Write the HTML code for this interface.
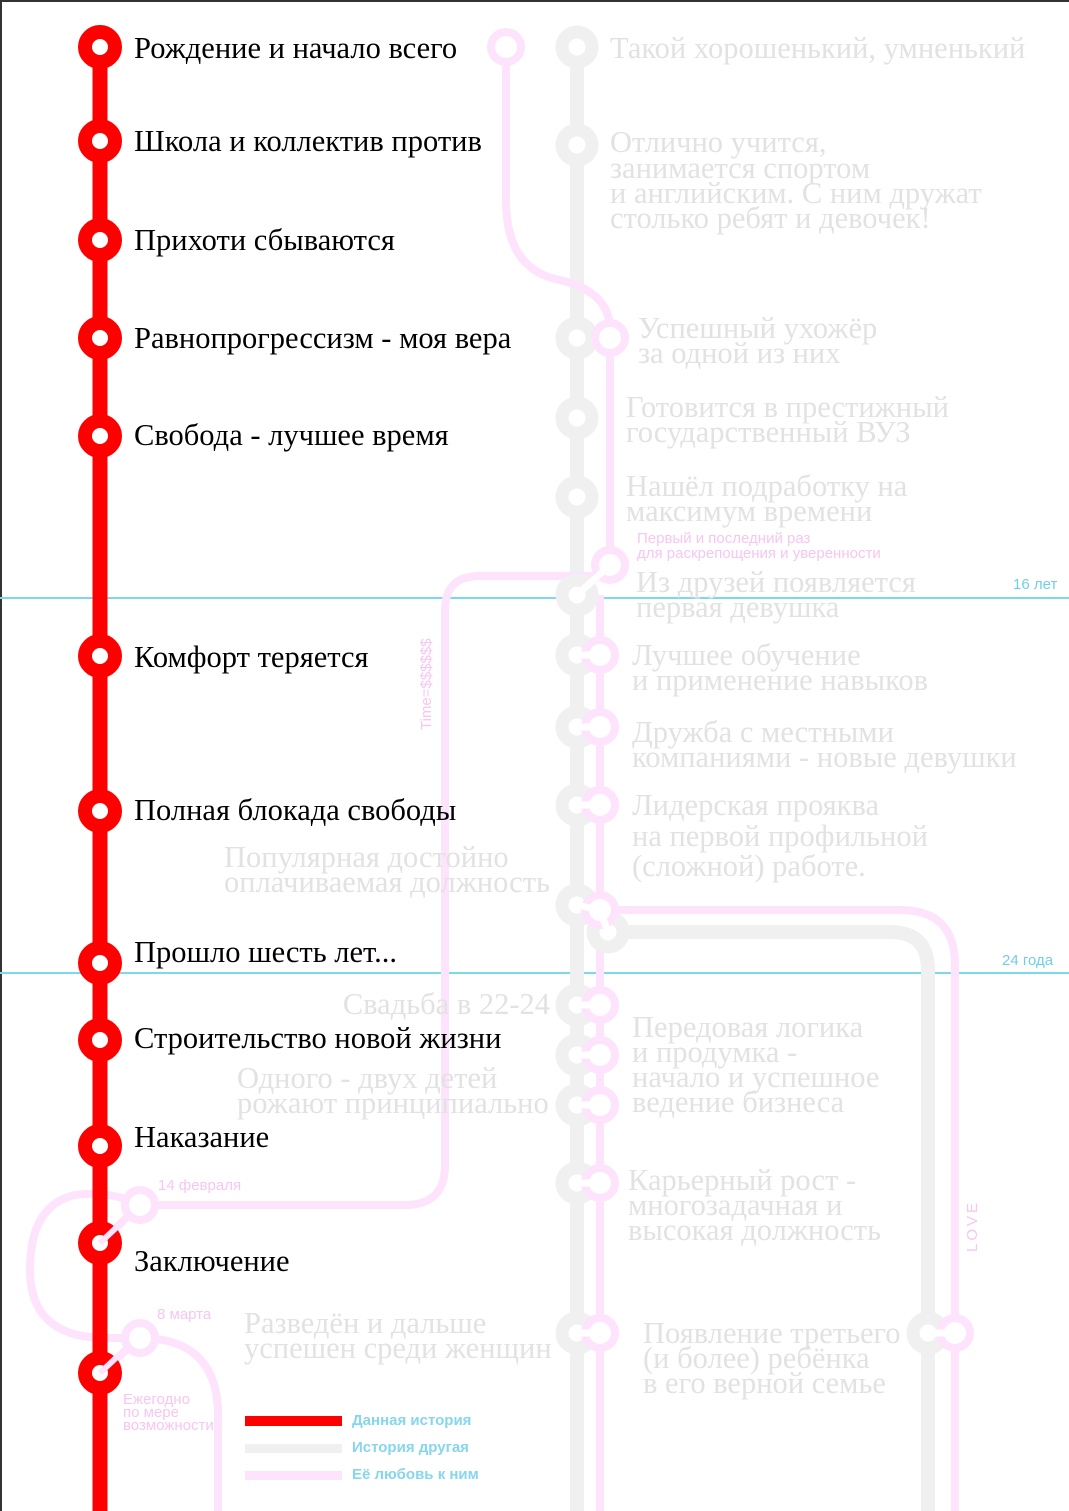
<!DOCTYPE html>
<html><head><meta charset="utf-8"><style>
html,body{margin:0;padding:0;background:#fff}
svg{display:block}
.b{font-family:"Liberation Serif","Noto Serif CJK SC",serif;font-size:30.5px;fill:#000}
.g{font-family:"Liberation Serif","Noto Serif CJK SC",serif;font-size:30.5px;fill:#e2e2e2}
.s{font-family:"Liberation Sans","Noto Sans CJK SC",sans-serif;font-size:15px;fill:#f7c6f1}
.bl{font-family:"Liberation Sans","Noto Sans CJK SC",sans-serif;font-size:15px;fill:#6fcfea}
.lg{font-family:"Liberation Sans","Noto Sans CJK SC",sans-serif;font-size:15px;font-weight:bold;fill:#86d6ee}
</style></head><body>
<svg width="1069" height="1511" viewBox="0 0 1069 1511" xmlns="http://www.w3.org/2000/svg">
<rect x="0" y="0" width="1069" height="1511" fill="#fff"/>
<line x1="0" y1="1" x2="1069" y2="1" stroke="#333" stroke-width="2"/>
<line x1="1" y1="0" x2="1" y2="1511" stroke="#333" stroke-width="2"/>

<line x1="0" y1="598" x2="1069" y2="598" stroke="#7dd8ec" stroke-width="2"/>
<line x1="0" y1="973" x2="1069" y2="973" stroke="#7dd8ec" stroke-width="2"/>
<text x="1013" y="589" class="bl">16 лет</text>
<text x="1002" y="965" class="bl">24 года</text>

<g stroke="#f0f0f0" fill="none" stroke-width="14">
<line x1="577" y1="47" x2="577" y2="1511"/>
<path d="M608 932 L890 932 Q928 932 928 970 L928 1511"/>
</g>
<g stroke="#fde3fb" fill="none" stroke-width="8">
<path d="M506 47 L506 200 Q506 270 560 280 Q610 292 610 330 L610 565"/>
<path d="M610 565 L577 595"/>
<path d="M600 576 L480 576 Q445 576 445 610 L445 1165 Q445 1205 405 1205 L140 1205"/>
<path d="M600 595 L600 1511"/>
<path d="M600 910 L900 910 Q955 910 955 965 L955 1511"/>
<path d="M140 1205 Q110 1190 75 1195 Q30 1205 30 1270 Q30 1335 100 1338 L140 1338"/>
<path d="M140 1338 Q215 1338 218 1410 L218 1511"/>
<line x1="100" y1="1243" x2="140" y2="1205"/>
<line x1="100" y1="1373" x2="140" y2="1338"/>
</g>

<g fill="#fff" stroke="#f0f0f0" stroke-width="13">
<circle cx="577" cy="47" r="15"/><circle cx="577" cy="145" r="15"/><circle cx="577" cy="338" r="15"/>
<circle cx="577" cy="418" r="15"/><circle cx="577" cy="497" r="15"/><circle cx="577" cy="595" r="15"/>
<circle cx="577" cy="655" r="15"/><circle cx="577" cy="727" r="15"/><circle cx="577" cy="805" r="15"/>
<circle cx="577" cy="905" r="15"/><circle cx="608" cy="932" r="15"/>
<circle cx="577" cy="1005" r="15"/><circle cx="577" cy="1055" r="15"/><circle cx="577" cy="1105" r="15"/>
<circle cx="577" cy="1183" r="15"/><circle cx="577" cy="1333" r="15"/><circle cx="928" cy="1333" r="15"/>
</g>
<g fill="#fff" stroke="#fde3fb" stroke-width="8">
<circle cx="506" cy="47" r="15"/><circle cx="610" cy="338" r="15"/><circle cx="610" cy="565" r="15"/>
<circle cx="600" cy="655" r="15"/><circle cx="600" cy="727" r="15"/><circle cx="600" cy="805" r="15"/>
<circle cx="600" cy="910" r="15"/>
<circle cx="600" cy="1005" r="15"/><circle cx="600" cy="1055" r="15"/><circle cx="600" cy="1105" r="15"/>
<circle cx="600" cy="1183" r="15"/><circle cx="600" cy="1333" r="15"/><circle cx="955" cy="1333" r="15"/>
<circle cx="140" cy="1205" r="15"/><circle cx="140" cy="1338" r="15"/>
</g>
<g stroke="#fff" stroke-width="7">
<line x1="577" y1="655" x2="600" y2="655"/><line x1="577" y1="727" x2="600" y2="727"/><line x1="577" y1="805" x2="600" y2="805"/>
<line x1="577" y1="1005" x2="600" y2="1005"/><line x1="577" y1="1055" x2="600" y2="1055"/><line x1="577" y1="1105" x2="600" y2="1105"/>
<line x1="577" y1="1183" x2="600" y2="1183"/><line x1="577" y1="1333" x2="600" y2="1333"/><line x1="928" y1="1333" x2="955" y2="1333"/>
<line x1="577" y1="595" x2="610" y2="565"/>
<line x1="577" y1="905" x2="600" y2="910"/><line x1="600" y1="910" x2="608" y2="932"/>
</g>

<line x1="100" y1="47" x2="100" y2="1511" stroke="#ff0000" stroke-width="15"/>
<g fill="#fff" stroke="#ff0000" stroke-width="14">
<circle cx="100" cy="47" r="15"/><circle cx="100" cy="141" r="15"/><circle cx="100" cy="240" r="15"/>
<circle cx="100" cy="338" r="15"/><circle cx="100" cy="436" r="15"/><circle cx="100" cy="656" r="15"/>
<circle cx="100" cy="811" r="15"/><circle cx="100" cy="963" r="15"/><circle cx="100" cy="1040" r="15"/>
<circle cx="100" cy="1146" r="15"/><circle cx="100" cy="1243" r="15"/><circle cx="100" cy="1373" r="15"/>
</g>
<g stroke="#fde3fb" stroke-width="6"><line x1="100" y1="1243" x2="118" y2="1226"/><line x1="100" y1="1373" x2="118" y2="1356"/></g>

<text class="b" x="134" y="58">Рождение и начало всего</text>
<text class="b" x="134" y="151">Школа и коллектив против</text>
<text class="b" x="134" y="250">Прихоти сбываются</text>
<text class="b" x="134" y="348">Равнопрогрессизм - моя вера</text>
<text class="b" x="134" y="445">Свобода - лучшее время</text>
<text class="b" x="134" y="667">Комфорт теряется</text>
<text class="b" x="134" y="820">Полная блокада свободы</text>
<text class="b" x="134" y="962">Прошло шесть лет...</text>
<text class="b" x="134" y="1048">Строительство новой жизни</text>
<text class="b" x="134" y="1147">Наказание</text>
<text class="b" x="134" y="1271">Заключение</text>

<text class="g" x="610" y="58">Такой хорошенький, умненький</text>
<text class="g" x="610" y="152">Отлично учится,</text>
<text class="g" x="610" y="178">занимается спортом</text>
<text class="g" x="610" y="203">и английским. С ним дружат</text>
<text class="g" x="610" y="228">столько ребят и девочек!</text>
<text class="g" x="638" y="338">Успешный ухожёр</text>
<text class="g" x="638" y="363">за одной из них</text>
<text class="g" x="626" y="417">Готовится в престижный</text>
<text class="g" x="626" y="442">государственный ВУЗ</text>
<text class="g" x="626" y="496">Нашёл подработку на</text>
<text class="g" x="626" y="521">максимум времени</text>
<text class="s" x="637" y="543">Первый и последний раз</text>
<text class="s" x="637" y="558">для раскрепощения и уверенности</text>
<text class="g" x="636" y="592">Из друзей появляется</text>
<text class="g" x="636" y="617">первая девушка</text>
<text class="g" x="632" y="665">Лучшее обучение</text>
<text class="g" x="632" y="690">и применение навыков</text>
<text class="g" x="632" y="742">Дружба с местными</text>
<text class="g" x="632" y="767">компаниями - новые девушки</text>
<text class="g" x="632" y="815">Лидерская прояква</text>
<text class="g" x="632" y="846">на первой профильной</text>
<text class="g" x="632" y="876">(сложной) работе.</text>
<text class="g" x="224" y="867">Популярная достойно</text>
<text class="g" x="224" y="892">оплачиваемая должность</text>
<text class="g" x="550" y="1014" text-anchor="end">Свадьба в 22-24</text>
<text class="g" x="237" y="1088">Одного - двух детей</text>
<text class="g" x="237" y="1113">рожают принципиально</text>
<text class="g" x="632" y="1037">Передовая логика</text>
<text class="g" x="632" y="1062">и продумка -</text>
<text class="g" x="632" y="1087">начало и успешное</text>
<text class="g" x="632" y="1112">ведение бизнеса</text>
<text class="g" x="628" y="1190">Карьерный рост -</text>
<text class="g" x="628" y="1215">многозадачная и</text>
<text class="g" x="628" y="1240">высокая должность</text>
<text class="g" x="244" y="1333">Разведён и дальше</text>
<text class="g" x="244" y="1358">успешен среди женщин</text>
<text class="g" x="643" y="1343">Появление третьего</text>
<text class="g" x="643" y="1368">(и более) ребёнка</text>
<text class="g" x="643" y="1393">в его верной семье</text>

<text class="s" x="158" y="1190">14 февраля</text>
<text class="s" x="157" y="1319">8 марта</text>
<text class="s" x="123" y="1404">Ежегодно</text>
<text class="s" x="123" y="1417">по мере</text>
<text class="s" x="123" y="1430">возможности</text>
<text class="s" transform="translate(431,730) rotate(-90)">Time=$$$$$$</text>
<text class="s" transform="translate(977,1252) rotate(-90)" letter-spacing="3">LOVE</text>

<rect x="245" y="1416" width="97" height="10" fill="#ff0000"/>
<rect x="245" y="1444" width="97" height="9" fill="#f0f0f0"/>
<rect x="245" y="1471" width="97" height="9" fill="#fde3fb"/>
<text class="lg" x="352" y="1425">Данная история</text>
<text class="lg" x="352" y="1452">История другая</text>
<text class="lg" x="352" y="1479">Её любовь к ним</text>
</svg>
</body></html>
